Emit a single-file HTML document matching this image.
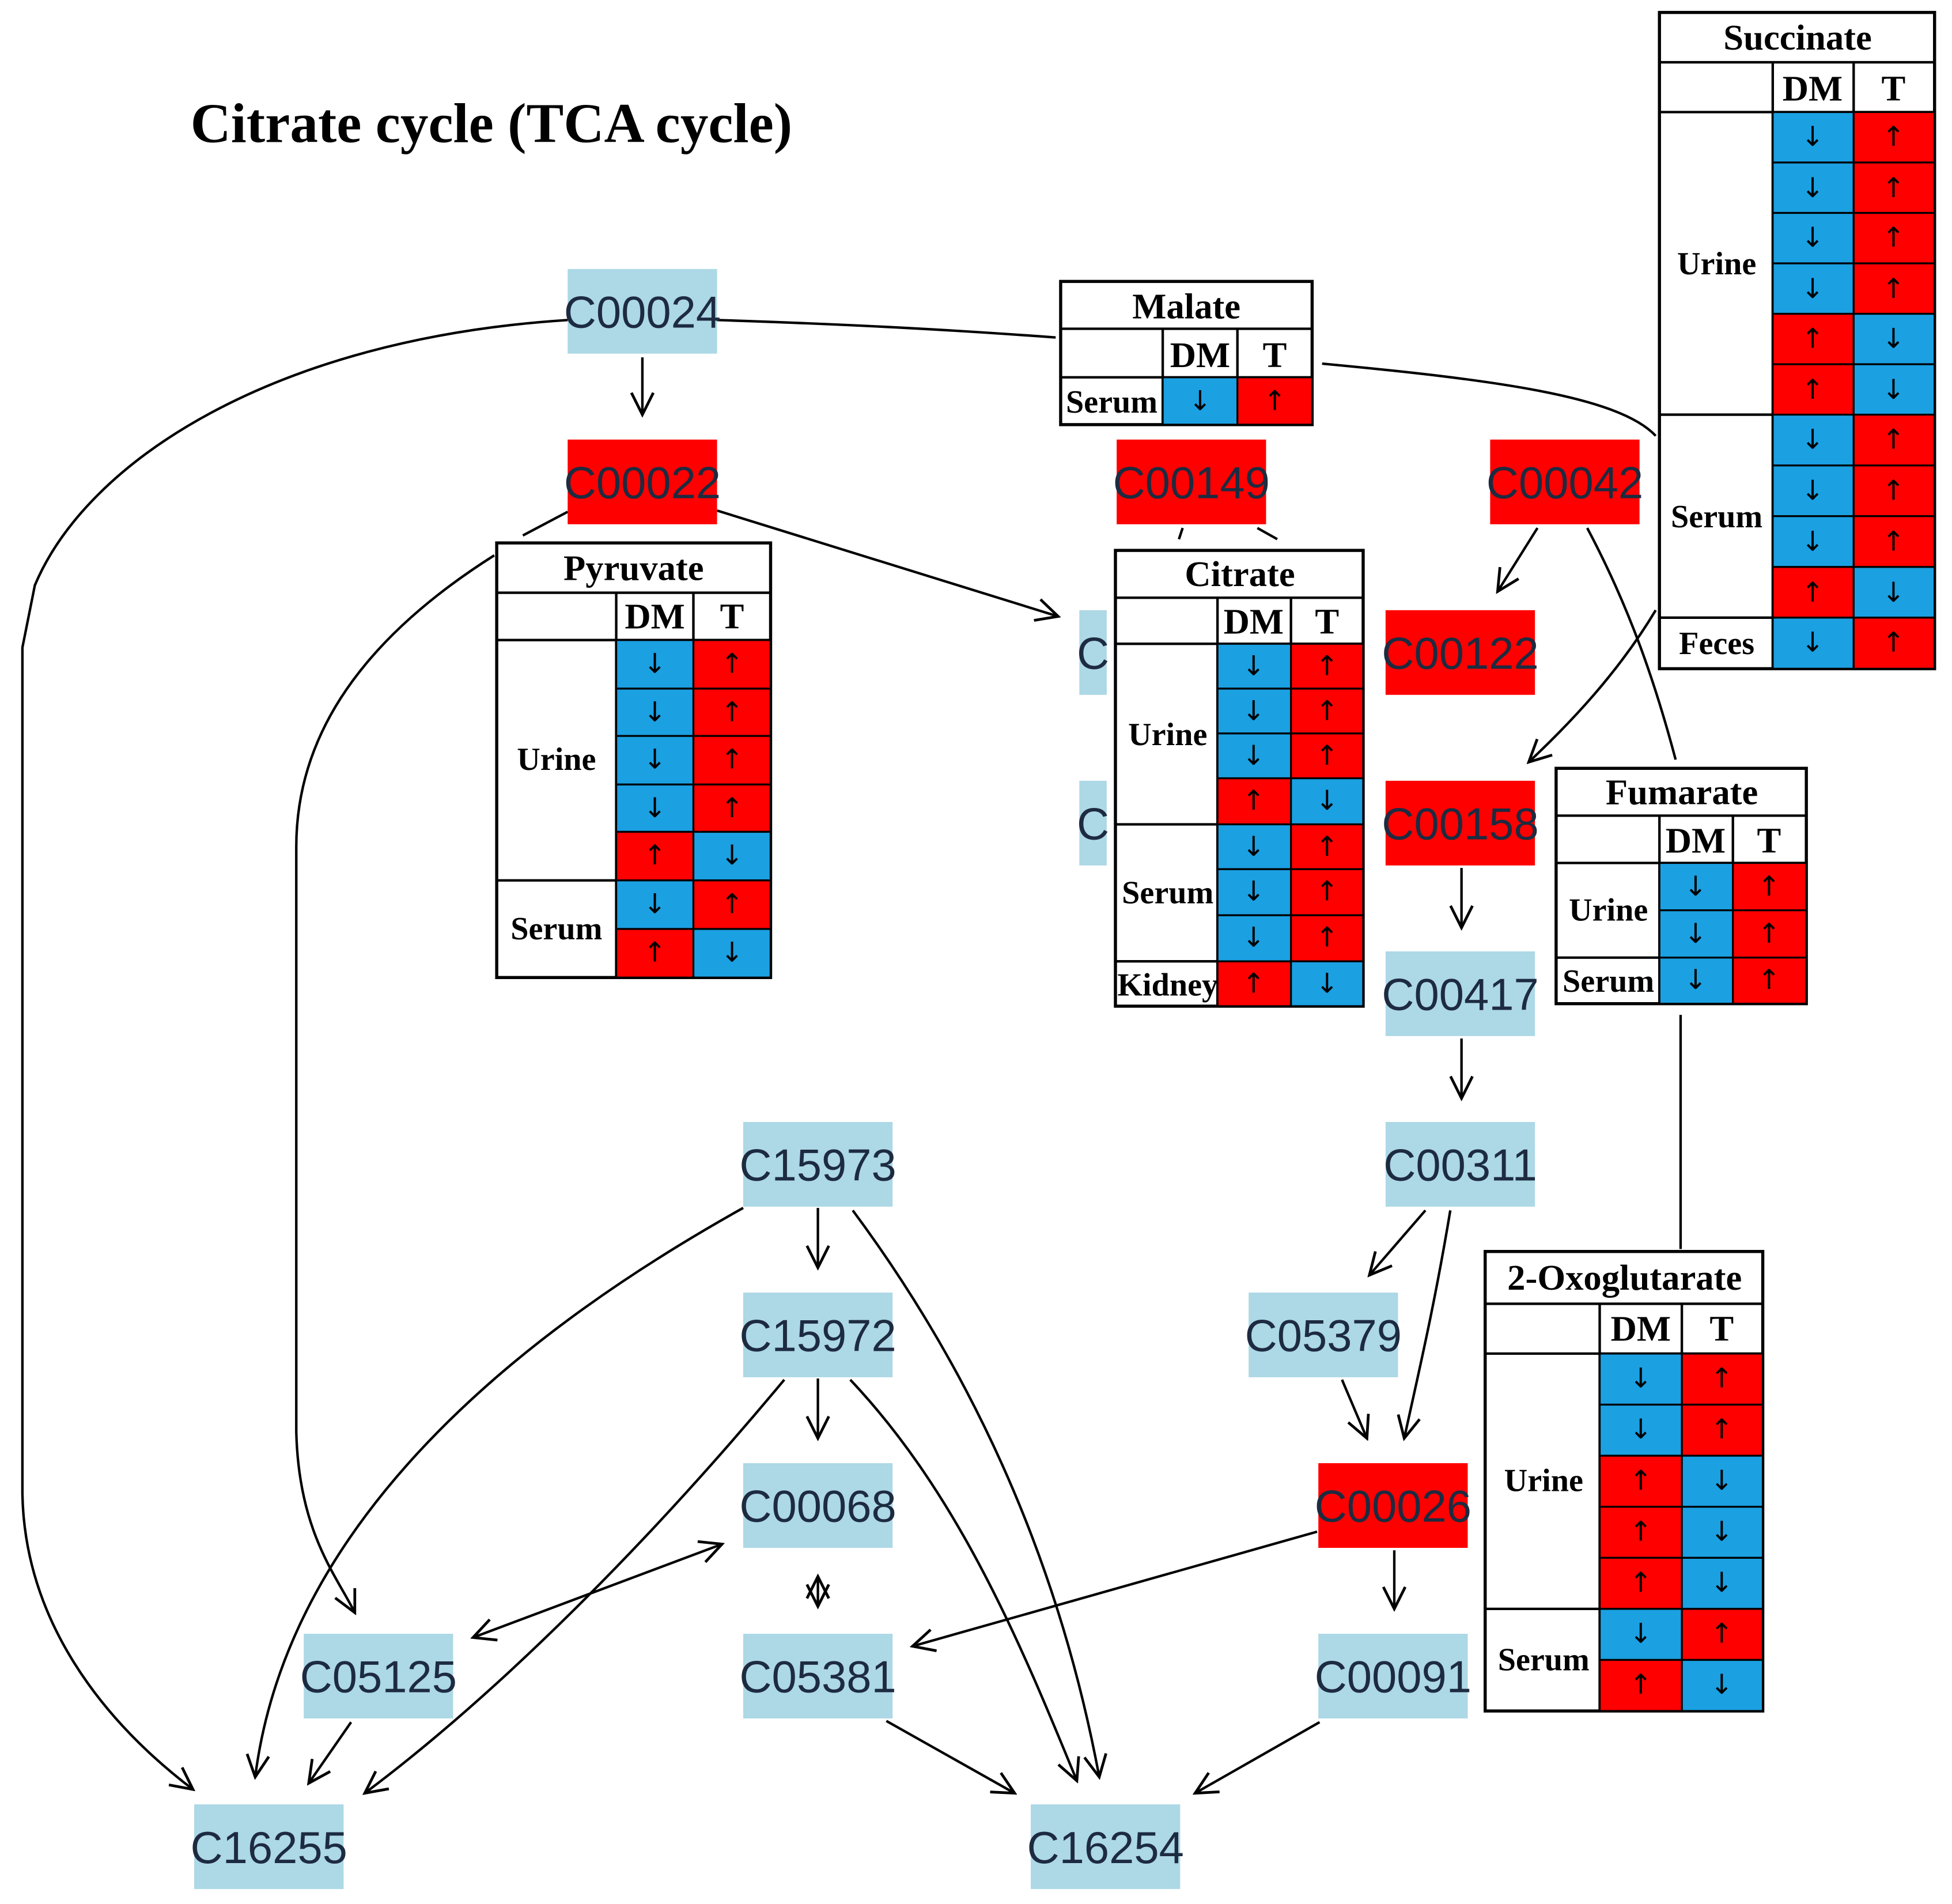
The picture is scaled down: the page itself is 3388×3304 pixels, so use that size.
<!DOCTYPE html>
<html><head><meta charset="utf-8"><style>
html,body{margin:0;padding:0;background:#fff}
svg{display:block}
.b{font-family:"Liberation Sans",sans-serif;font-size:36px;fill:#1d2b40;text-anchor:middle;dominant-baseline:central}
.t{font-family:"Liberation Serif",serif;font-weight:bold;font-size:29px;fill:#000;text-anchor:middle;dominant-baseline:central}
.l{font-family:"Liberation Serif",serif;font-weight:bold;font-size:26px;fill:#000;text-anchor:middle;dominant-baseline:central}
.h{font-family:"Liberation Serif",serif;font-weight:bold;font-size:29px;fill:#000;text-anchor:middle;dominant-baseline:central}
.a{font-family:"DejaVu Sans",sans-serif;font-size:22px;fill:#000;text-anchor:middle;dominant-baseline:central}
.cb{fill:#1ba0e2;stroke:#000;stroke-width:1.5}
.cr{fill:#f00;stroke:#000;stroke-width:1.5}
.tb{fill:#fff;stroke:#000;stroke-width:2.5}
.ln{stroke:#000;stroke-width:2;fill:none}
.e{stroke:#000;stroke-width:2;fill:none}
</style></head><body>
<svg width="3388" height="3304" viewBox="0 0 1568 1529" preserveAspectRatio="none" xmlns="http://www.w3.org/2000/svg">
<defs>
<marker id="m" viewBox="0 0 20 20" refX="18" refY="10" markerWidth="22" markerHeight="22" markerUnits="userSpaceOnUse" orient="auto-start-reverse">
<polyline points="2,2 18,10 2,18" fill="none" stroke="#000" stroke-width="2"/>
</marker>
</defs>
<rect width="1568" height="1529" fill="#fff"/>
<text x="153" y="114" font-family="Liberation Serif,serif" font-weight="bold" font-size="45" fill="#000">Citrate cycle (TCA cycle)</text>

<!-- connectors -->
<path class="e" d="M516,287 L516,333" marker-end="url(#m)"/>
<path class="e" d="M456,257 C220,272 70,370 28,470 L18,520 L18,1200 C20,1300 80,1380 155,1437" marker-end="url(#m)"/>
<path class="e" d="M576,257 C700,261 780,266 848,271"/>
<path class="e" d="M1062,292 C1200,305 1300,318 1330,350"/>
<path class="e" d="M456,411 L420,430"/>
<path class="e" d="M397,446 C280,520 238,600 238,680 L238,1150 C240,1230 270,1265 285,1295" marker-end="url(#m)"/>
<path class="e" d="M576,410 L850,495" marker-end="url(#m)"/>
<path class="e" d="M950,424 L947,433"/>
<path class="e" d="M1010,424 L1026,433"/>
<path class="e" d="M1235,424 L1203,475" marker-end="url(#m)"/>
<path class="e" d="M1275,424 C1310,490 1330,550 1346,610"/>
<path class="e" d="M1330,490 C1300,540 1262,580 1228,612" marker-end="url(#m)"/>
<path class="e" d="M1174,697 L1174,745" marker-end="url(#m)"/>
<path class="e" d="M1174,834 L1174,882" marker-end="url(#m)"/>
<path class="e" d="M1350,815 L1350,1003"/>
<path class="e" d="M1145,972 L1100,1024" marker-end="url(#m)"/>
<path class="e" d="M1165,972 C1152,1050 1140,1100 1128,1155" marker-end="url(#m)"/>
<path class="e" d="M1078,1108 L1098,1155" marker-end="url(#m)"/>
<path class="e" d="M1120,1245 L1120,1292" marker-end="url(#m)"/>
<path class="e" d="M1058,1230 L733,1322" marker-end="url(#m)"/>
<path class="e" d="M1060,1383 L960,1440" marker-end="url(#m)"/>
<path class="e" d="M657,970 L657,1018" marker-end="url(#m)"/>
<path class="e" d="M685,972 C780,1100 850,1250 883,1427" marker-end="url(#m)"/>
<path class="e" d="M597,970 C400,1080 230,1230 205,1427" marker-end="url(#m)"/>
<path class="e" d="M657,1107 L657,1155" marker-end="url(#m)"/>
<path class="e" d="M683,1108 C770,1200 820,1320 865,1430" marker-end="url(#m)"/>
<path class="e" d="M630,1108 C520,1240 400,1360 293,1440" marker-end="url(#m)"/>
<path class="e" d="M657,1266 L657,1290" marker-end="url(#m)" marker-start="url(#m)"/>
<path class="e" d="M380,1315 L580,1240" marker-end="url(#m)" marker-start="url(#m)"/>
<path class="e" d="M282,1383 L248,1432" marker-end="url(#m)"/>
<path class="e" d="M712,1382 L815,1440" marker-end="url(#m)"/>

<!-- compound boxes -->
<g>
<rect x="456" y="216" width="120" height="68" fill="#add8e6"/><text class="b" x="516" y="251">C00024</text>
<rect x="456" y="353" width="120" height="68" fill="#f00"/><text class="b" x="516" y="388">C00022</text>
<rect x="897" y="353" width="120" height="68" fill="#f00"/><text class="b" x="957" y="388">C00149</text>
<rect x="1197" y="353" width="120" height="68" fill="#f00"/><text class="b" x="1257" y="388">C00042</text>
<rect x="1113" y="490" width="120" height="68" fill="#f00"/><text class="b" x="1173" y="525">C00122</text>
<rect x="1113" y="627" width="120" height="68" fill="#f00"/><text class="b" x="1173" y="662">C00158</text>
<rect x="1113" y="764" width="120" height="68" fill="#add8e6"/><text class="b" x="1173" y="799">C00417</text>
<rect x="1113" y="901" width="120" height="68" fill="#add8e6"/><text class="b" x="1173" y="936">C00311</text>
<rect x="597" y="901" width="120" height="68" fill="#add8e6"/><text class="b" x="657" y="936">C15973</text>
<rect x="597" y="1038" width="120" height="68" fill="#add8e6"/><text class="b" x="657" y="1073">C15972</text>
<rect x="597" y="1175" width="120" height="68" fill="#add8e6"/><text class="b" x="657" y="1210">C00068</text>
<rect x="597" y="1312" width="120" height="68" fill="#add8e6"/><text class="b" x="657" y="1347">C05381</text>
<rect x="1003" y="1038" width="120" height="68" fill="#add8e6"/><text class="b" x="1063" y="1073">C05379</text>
<rect x="1059" y="1175" width="120" height="68" fill="#f00"/><text class="b" x="1119" y="1210">C00026</text>
<rect x="1059" y="1312" width="120" height="68" fill="#add8e6"/><text class="b" x="1119" y="1347">C00091</text>
<rect x="244" y="1312" width="120" height="68" fill="#add8e6"/><text class="b" x="304" y="1347">C05125</text>
<rect x="156" y="1449" width="120" height="68" fill="#add8e6"/><text class="b" x="216" y="1484">C16255</text>
<rect x="828" y="1449" width="120" height="68" fill="#add8e6"/><text class="b" x="888" y="1484">C16254</text>
<rect x="867" y="490" width="22" height="68" fill="#add8e6"/><text class="b" x="878" y="525">C</text>
<rect x="867" y="627" width="22" height="68" fill="#add8e6"/><text class="b" x="878" y="662">C</text>
</g>

<!-- Malate -->
<rect class="tb" x="852" y="226" width="202" height="115"/>
<line class="ln" x1="852" y1="264" x2="1054" y2="264"/><line class="ln" x1="852" y1="303" x2="1054" y2="303"/>
<line class="ln" x1="934" y1="264" x2="934" y2="341"/><line class="ln" x1="994" y1="264" x2="994" y2="341"/>
<text class="t" x="953" y="246">Malate</text><text class="h" x="964" y="285">DM</text><text class="h" x="1024" y="285">T</text>
<text class="l" x="893" y="323" font-size="24">Serum</text>
<rect class="cb" x="934" y="303" width="60" height="38"/><text class="a" x="964" y="322">↓</text>
<rect class="cr" x="994" y="303" width="60" height="38"/><text class="a" x="1024" y="322">↑</text>

<!-- Pyruvate -->
<rect class="tb" x="399" y="436" width="220" height="349"/>
<line class="ln" x1="399" y1="476" x2="619" y2="476"/><line class="ln" x1="399" y1="514" x2="619" y2="514"/>
<line class="ln" x1="399" y1="707" x2="495" y2="707"/>
<line class="ln" x1="495" y1="476" x2="495" y2="785"/><line class="ln" x1="557" y1="476" x2="557" y2="514"/>
<text class="t" x="509" y="456">Pyruvate</text><text class="h" x="526" y="495">DM</text><text class="h" x="588" y="495">T</text>
<text class="l" x="447" y="610">Urine</text><text class="l" x="447" y="746">Serum</text>
<rect class="cb" x="495" y="514" width="62" height="39"/><text class="a" x="526" y="533">↓</text><rect class="cr" x="557" y="514" width="62" height="39"/><text class="a" x="588" y="533">↑</text>
<rect class="cb" x="495" y="553" width="62" height="38"/><text class="a" x="526" y="572">↓</text><rect class="cr" x="557" y="553" width="62" height="38"/><text class="a" x="588" y="572">↑</text>
<rect class="cb" x="495" y="591" width="62" height="39"/><text class="a" x="526" y="610">↓</text><rect class="cr" x="557" y="591" width="62" height="39"/><text class="a" x="588" y="610">↑</text>
<rect class="cb" x="495" y="630" width="62" height="38"/><text class="a" x="526" y="649">↓</text><rect class="cr" x="557" y="630" width="62" height="38"/><text class="a" x="588" y="649">↑</text>
<rect class="cr" x="495" y="668" width="62" height="39"/><text class="a" x="526" y="687">↑</text><rect class="cb" x="557" y="668" width="62" height="39"/><text class="a" x="588" y="687">↓</text>
<rect class="cb" x="495" y="707" width="62" height="39"/><text class="a" x="526" y="726">↓</text><rect class="cr" x="557" y="707" width="62" height="39"/><text class="a" x="588" y="726">↑</text>
<rect class="cr" x="495" y="746" width="62" height="39"/><text class="a" x="526" y="765">↑</text><rect class="cb" x="557" y="746" width="62" height="39"/><text class="a" x="588" y="765">↓</text>

<!-- Citrate -->
<rect class="tb" x="896" y="442" width="199" height="366"/>
<line class="ln" x1="896" y1="480" x2="1095" y2="480"/><line class="ln" x1="896" y1="517" x2="1095" y2="517"/>
<line class="ln" x1="896" y1="662" x2="978" y2="662"/><line class="ln" x1="896" y1="772" x2="978" y2="772"/>
<line class="ln" x1="978" y1="480" x2="978" y2="808"/><line class="ln" x1="1037" y1="480" x2="1037" y2="517"/>
<text class="t" x="996" y="461">Citrate</text><text class="h" x="1007" y="499">DM</text><text class="h" x="1066" y="499">T</text>
<text class="l" x="938" y="590" font-size="24">Urine</text><text class="l" x="938" y="717" font-size="24">Serum</text><text class="l" x="938" y="791" font-size="21">Kidney</text>
<rect class="cb" x="978" y="517" width="59" height="36"/><text class="a" x="1007" y="535">↓</text><rect class="cr" x="1037" y="517" width="58" height="36"/><text class="a" x="1066" y="535">↑</text>
<rect class="cb" x="978" y="553" width="59" height="36"/><text class="a" x="1007" y="571">↓</text><rect class="cr" x="1037" y="553" width="58" height="36"/><text class="a" x="1066" y="571">↑</text>
<rect class="cb" x="978" y="589" width="59" height="36"/><text class="a" x="1007" y="607">↓</text><rect class="cr" x="1037" y="589" width="58" height="36"/><text class="a" x="1066" y="607">↑</text>
<rect class="cr" x="978" y="625" width="59" height="37"/><text class="a" x="1007" y="643">↑</text><rect class="cb" x="1037" y="625" width="58" height="37"/><text class="a" x="1066" y="643">↓</text>
<rect class="cb" x="978" y="662" width="59" height="36"/><text class="a" x="1007" y="680">↓</text><rect class="cr" x="1037" y="662" width="58" height="36"/><text class="a" x="1066" y="680">↑</text>
<rect class="cb" x="978" y="698" width="59" height="37"/><text class="a" x="1007" y="716">↓</text><rect class="cr" x="1037" y="698" width="58" height="37"/><text class="a" x="1066" y="716">↑</text>
<rect class="cb" x="978" y="735" width="59" height="37"/><text class="a" x="1007" y="753">↓</text><rect class="cr" x="1037" y="735" width="58" height="37"/><text class="a" x="1066" y="753">↑</text>
<rect class="cr" x="978" y="772" width="59" height="36"/><text class="a" x="1007" y="790">↑</text><rect class="cb" x="1037" y="772" width="58" height="36"/><text class="a" x="1066" y="790">↓</text>

<!-- Succinate -->
<rect class="tb" x="1333" y="10" width="221" height="527"/>
<line class="ln" x1="1333" y1="50" x2="1554" y2="50"/><line class="ln" x1="1333" y1="90" x2="1554" y2="90"/>
<line class="ln" x1="1333" y1="333" x2="1424" y2="333"/><line class="ln" x1="1333" y1="496" x2="1424" y2="496"/>
<line class="ln" x1="1424" y1="50" x2="1424" y2="537"/><line class="ln" x1="1489" y1="50" x2="1489" y2="90"/>
<text class="t" x="1444" y="30">Succinate</text><text class="h" x="1456" y="71">DM</text><text class="h" x="1521" y="71">T</text>
<text class="l" x="1379" y="212">Urine</text><text class="l" x="1379" y="415">Serum</text><text class="l" x="1379" y="517">Feces</text>
<rect class="cb" x="1424" y="90" width="65" height="40.5"/><text class="a" x="1456" y="110">↓</text><rect class="cr" x="1489" y="90" width="65" height="40.5"/><text class="a" x="1521" y="110">↑</text>
<rect class="cb" x="1424" y="130.5" width="65" height="40.5"/><text class="a" x="1456" y="151">↓</text><rect class="cr" x="1489" y="130.5" width="65" height="40.5"/><text class="a" x="1521" y="151">↑</text>
<rect class="cb" x="1424" y="171" width="65" height="40.5"/><text class="a" x="1456" y="191">↓</text><rect class="cr" x="1489" y="171" width="65" height="40.5"/><text class="a" x="1521" y="191">↑</text>
<rect class="cb" x="1424" y="211.5" width="65" height="40.5"/><text class="a" x="1456" y="232">↓</text><rect class="cr" x="1489" y="211.5" width="65" height="40.5"/><text class="a" x="1521" y="232">↑</text>
<rect class="cr" x="1424" y="252" width="65" height="40.5"/><text class="a" x="1456" y="272">↑</text><rect class="cb" x="1489" y="252" width="65" height="40.5"/><text class="a" x="1521" y="272">↓</text>
<rect class="cr" x="1424" y="292.5" width="65" height="40.5"/><text class="a" x="1456" y="313">↑</text><rect class="cb" x="1489" y="292.5" width="65" height="40.5"/><text class="a" x="1521" y="313">↓</text>
<rect class="cb" x="1424" y="333" width="65" height="40.8"/><text class="a" x="1456" y="353">↓</text><rect class="cr" x="1489" y="333" width="65" height="40.8"/><text class="a" x="1521" y="353">↑</text>
<rect class="cb" x="1424" y="373.8" width="65" height="40.7"/><text class="a" x="1456" y="394">↓</text><rect class="cr" x="1489" y="373.8" width="65" height="40.7"/><text class="a" x="1521" y="394">↑</text>
<rect class="cb" x="1424" y="414.5" width="65" height="40.8"/><text class="a" x="1456" y="435">↓</text><rect class="cr" x="1489" y="414.5" width="65" height="40.8"/><text class="a" x="1521" y="435">↑</text>
<rect class="cr" x="1424" y="455.3" width="65" height="40.7"/><text class="a" x="1456" y="476">↑</text><rect class="cb" x="1489" y="455.3" width="65" height="40.7"/><text class="a" x="1521" y="476">↓</text>
<rect class="cb" x="1424" y="496" width="65" height="41"/><text class="a" x="1456" y="516">↓</text><rect class="cr" x="1489" y="496" width="65" height="41"/><text class="a" x="1521" y="516">↑</text>

<!-- Fumarate -->
<rect class="tb" x="1250" y="617" width="201" height="189"/>
<line class="ln" x1="1250" y1="655" x2="1451" y2="655"/><line class="ln" x1="1250" y1="693" x2="1451" y2="693"/>
<line class="ln" x1="1250" y1="769" x2="1333" y2="769"/>
<line class="ln" x1="1333" y1="655" x2="1333" y2="806"/><line class="ln" x1="1392" y1="655" x2="1392" y2="693"/>
<text class="t" x="1351" y="636">Fumarate</text><text class="h" x="1362" y="675">DM</text><text class="h" x="1421" y="675">T</text>
<text class="l" x="1292" y="731" font-size="24">Urine</text><text class="l" x="1292" y="788" font-size="24">Serum</text>
<rect class="cb" x="1333" y="693" width="59" height="38"/><text class="a" x="1362" y="712">↓</text><rect class="cr" x="1392" y="693" width="59" height="38"/><text class="a" x="1421" y="712">↑</text>
<rect class="cb" x="1333" y="731" width="59" height="38"/><text class="a" x="1362" y="750">↓</text><rect class="cr" x="1392" y="731" width="59" height="38"/><text class="a" x="1421" y="750">↑</text>
<rect class="cb" x="1333" y="769" width="59" height="37"/><text class="a" x="1362" y="787">↓</text><rect class="cr" x="1392" y="769" width="59" height="37"/><text class="a" x="1421" y="787">↑</text>

<!-- 2-Oxoglutarate -->
<rect class="tb" x="1193" y="1005" width="223" height="369"/>
<line class="ln" x1="1193" y1="1047" x2="1416" y2="1047"/><line class="ln" x1="1193" y1="1087" x2="1416" y2="1087"/>
<line class="ln" x1="1193" y1="1292" x2="1285" y2="1292"/>
<line class="ln" x1="1285" y1="1047" x2="1285" y2="1374"/><line class="ln" x1="1351" y1="1047" x2="1351" y2="1087"/>
<text class="t" x="1305" y="1026">2-Oxoglutarate</text><text class="h" x="1318" y="1067">DM</text><text class="h" x="1383" y="1067">T</text>
<text class="l" x="1240" y="1189">Urine</text><text class="l" x="1240" y="1333">Serum</text>
<rect class="cb" x="1285" y="1087" width="66" height="41"/><text class="a" x="1318" y="1107">↓</text><rect class="cr" x="1351" y="1087" width="65" height="41"/><text class="a" x="1383" y="1107">↑</text>
<rect class="cb" x="1285" y="1128" width="66" height="41"/><text class="a" x="1318" y="1148">↓</text><rect class="cr" x="1351" y="1128" width="65" height="41"/><text class="a" x="1383" y="1148">↑</text>
<rect class="cr" x="1285" y="1169" width="66" height="41"/><text class="a" x="1318" y="1189">↑</text><rect class="cb" x="1351" y="1169" width="65" height="41"/><text class="a" x="1383" y="1189">↓</text>
<rect class="cr" x="1285" y="1210" width="66" height="41"/><text class="a" x="1318" y="1230">↑</text><rect class="cb" x="1351" y="1210" width="65" height="41"/><text class="a" x="1383" y="1230">↓</text>
<rect class="cr" x="1285" y="1251" width="66" height="41"/><text class="a" x="1318" y="1271">↑</text><rect class="cb" x="1351" y="1251" width="65" height="41"/><text class="a" x="1383" y="1271">↓</text>
<rect class="cb" x="1285" y="1292" width="66" height="41"/><text class="a" x="1318" y="1312">↓</text><rect class="cr" x="1351" y="1292" width="65" height="41"/><text class="a" x="1383" y="1312">↑</text>
<rect class="cr" x="1285" y="1333" width="66" height="41"/><text class="a" x="1318" y="1353">↑</text><rect class="cb" x="1351" y="1333" width="65" height="41"/><text class="a" x="1383" y="1353">↓</text>
</svg>
</body></html>
